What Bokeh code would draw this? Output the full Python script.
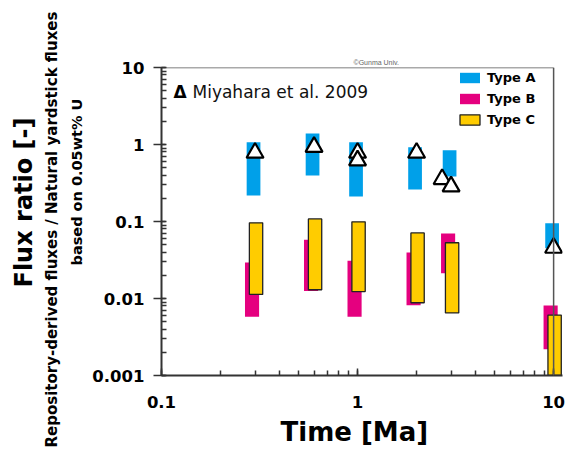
import math
from bokeh.plotting import figure
from bokeh.models import (Label, Legend, LegendItem, LogTicker, CustomJSTickFormatter,
                          Span, Range1d, Title)
from bokeh.embed import file_html
from bokeh.resources import INLINE

# ---- data ----
times = [0.3, 0.6, 1.0, 2.0, 3.0, 10.0]
typeA_low = [0.218, 0.395, 0.211, 0.26, 0.384, 0.045]
typeA_high = [1.07, 1.39, 1.07, 0.92, 0.84, 0.095]
typeB_low = [0.0058, 0.0125, 0.0058, 0.0082, 0.0213, 0.0022]
typeB_high = [0.0294, 0.058, 0.031, 0.0396, 0.070, 0.0081]
typeC_low = [0.0113, 0.013, 0.0123, 0.0088, 0.0065, 0.001]
typeC_high = [0.096, 0.108, 0.099, 0.071, 0.053, 0.0061]

miyahara_t = [0.3, 0.6, 1.0, 1.0, 2.0, 2.7, 3.0, 10.0]
miyahara_v = [0.78, 0.93, 0.78, 0.62, 0.78, 0.355, 0.285, 0.0455]

x_ticks_min, x_ticks_max = 0.1, 10
y_min, y_max = 0.001, 10

# ---- styles ----
BLUE = "#00A0E9"
MAGENTA = "#E5007F"
YELLOW = "#FFCC00"
AXIS = "#333333"
BOLD_FONT = "DejaVu Sans"

def span(ts, offset, half):
    left = [t * 10 ** (offset - half) for t in ts]
    right = [t * 10 ** (offset + half) for t in ts]
    return left, right

p = figure(width=565, height=454, x_axis_type="log", y_axis_type="log",
           x_range=Range1d(x_ticks_min, 11.1), y_range=Range1d(y_min, y_max),
           output_backend="svg", toolbar_location=None,
           min_border_left=161, min_border_right=3, min_border_top=67,
           min_border_bottom=79)
p.outline_line_color = None
p.xgrid.visible = False
p.ygrid.visible = False

aL, aR = span(times, -0.0077, 0.035)
bL, bR = span(times, -0.0153, 0.036)
cL, cR = span(times, 0.0051, 0.034)

rA = p.quad(left=aL, right=aR, bottom=typeA_low, top=typeA_high,
            fill_color=BLUE, line_color=None)
rB = p.quad(left=bL, right=bR, bottom=typeB_low, top=typeB_high,
            fill_color=MAGENTA, line_color=None)
rC = p.quad(left=cL, right=cR, bottom=typeC_low, top=typeC_high,
            fill_color=YELLOW, line_color="#222222", line_width=1.3)

p.scatter(miyahara_t, miyahara_v, marker="triangle", size=17,
          fill_color="white", line_color="black", line_width=2.2)

# frame top / right border
p.add_layout(Span(location=x_ticks_max, dimension="height",
                  line_color="#555555", line_width=1.5))
p.segment(x0=[x_ticks_min], x1=[x_ticks_max], y0=[y_max], y1=[y_max],
          line_color="#555555", line_width=1.5)

fmt = CustomJSTickFormatter(code="""
const e = Math.round(Math.log10(tick));
return e >= 0 ? String(10 ** e) : (10 ** e).toFixed(-e);
""")

for ax in (p.xaxis[0], p.yaxis[0]):
    ax.ticker = LogTicker(mantissas=[1], num_minor_ticks=10)
    ax.formatter = fmt
    ax.axis_line_color = AXIS
    ax.axis_line_width = 2
    ax.major_tick_line_color = AXIS
    ax.minor_tick_line_color = AXIS
    ax.major_tick_line_width = 1.5
    ax.minor_tick_line_width = 1.5
    ax.major_label_text_font = BOLD_FONT
    ax.major_label_text_font_style = "bold"
    ax.major_label_text_font_size = "16.5px"
    ax.major_label_text_color = "black"
    ax.minor_tick_out = 0

p.xaxis.major_tick_in = 7
p.xaxis.major_tick_out = 0
p.xaxis.minor_tick_in = 5
p.xaxis.major_label_standoff = 20
p.yaxis.major_tick_in = 4
p.yaxis.major_tick_out = 8
p.yaxis.minor_tick_in = 5
p.yaxis.major_label_standoff = 9

# legend
legend = Legend(items=[LegendItem(label="Type A", renderers=[rA]),
                       LegendItem(label="Type B", renderers=[rB]),
                       LegendItem(label="Type C", renderers=[rC])],
                location=(296, 248), glyph_width=25, glyph_height=13,
                label_height=13, spacing=6, label_standoff=5, padding=0,
                margin=0, border_line_color=None, background_fill_alpha=0,
                label_text_font=BOLD_FONT, label_text_font_style="bold",
                label_text_font_size="13px", label_text_color="black")
p.add_layout(legend)

def lab(text, x, y, size, bold=True, font=BOLD_FONT, color="black"):
    p.add_layout(Label(x=x, y=y, x_units="screen", y_units="screen", text=text,
                       text_font=font, text_font_size=size,
                       text_font_style="bold" if bold else "normal",
                       text_align="left", text_baseline="alphabetic",
                       text_color=color))

lab("Δ", 12, 284, "17px")
lab("Miyahara et al. 2009", 31, 284, "17px", bold=False, color="#111111")

# invisible tall spacer next to the frame (plot title), credit line outside it
p.title.text = "I"
p.title.text_alpha = 0
p.title.text_font = "DejaVu Sans"
p.title.text_font_size = "46px"
p.title.standoff = 0
p.title.vertical_align = "middle"
p.add_layout(Title(text="©Gunma Univ.", align="left", offset=192,
                   vertical_align="middle", standoff=2,
                   text_font="Liberation Sans", text_font_size="7px",
                   text_font_style="normal", text_color="#666666"), "above")

# y-axis texts (inner to outer)
p.add_layout(Title(text="based on 0.05wt% U", align="left", offset=110,
                   vertical_align="middle", standoff=7, text_font=BOLD_FONT,
                   text_font_style="bold", text_font_size="14.5px",
                   text_color="black"), "left")
p.add_layout(Title(text="Repository-derived fluxes / Natural yardstick fluxes",
                   align="left", offset=-72, vertical_align="middle", standoff=4.5,
                   text_font=BOLD_FONT, text_font_style="bold",
                   text_font_size="15px", text_color="black"), "left")
p.add_layout(Title(text="Flux ratio [-]", align="left", offset=88,
                   vertical_align="middle", standoff=0.5, text_font=BOLD_FONT,
                   text_font_style="bold", text_font_size="24px",
                   text_color="black"), "left")

# x-axis text
p.add_layout(Title(text="Time [Ma]", align="left", offset=119,
                   vertical_align="middle", standoff=10, text_font=BOLD_FONT,
                   text_font_style="bold", text_font_size="26px",
                   text_color="black"), "below")

open("out.html", "w").write(file_html(p, INLINE))
